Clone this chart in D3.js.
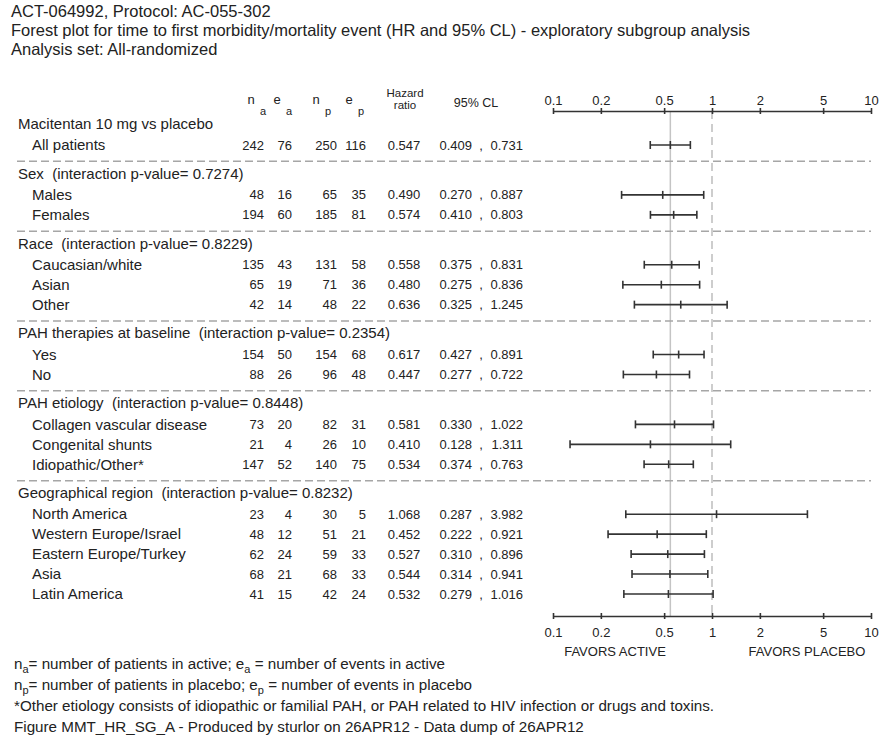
<!DOCTYPE html>
<html>
<head>
<meta charset="utf-8">
<script src="https://cdn.jsdelivr.net/npm/d3@7"></script>
<style>
  body { margin: 0; background: #fff; }
  svg { display: block; font-family: "Liberation Sans", Arial, sans-serif; }
  svg text { white-space: pre; }
</style>
</head>
<body>
<svg id="chart" width="880" height="736"></svg>
<script>
// ---------------- data ----------------
const titleLines = [
  "ACT-064992, Protocol: AC-055-302",
  "Forest plot for time to first morbidity/mortality event (HR and 95% CL) - exploratory subgroup analysis",
  "Analysis set: All-randomized"
];
const groupHeaders = [
  "Macitentan 10 mg vs placebo",
  "Sex  (interaction p-value= 0.7274)",
  "Race  (interaction p-value= 0.8229)",
  "PAH therapies at baseline  (interaction p-value= 0.2354)",
  "PAH etiology  (interaction p-value= 0.8448)",
  "Geographical region  (interaction p-value= 0.8232)"
];
const subgroups = ["All patients", "Males", "Females", "Caucasian/white", "Asian", "Other",
  "Yes", "No", "Collagen vascular disease", "Congenital shunts", "Idiopathic/Other*",
  "North America", "Western Europe/Israel", "Eastern Europe/Turkey", "Asia", "Latin America"];
const groupIndex = [0, 1, 1, 2, 2, 2, 3, 3, 4, 4, 4, 5, 5, 5, 5, 5];
const nActive  = [242, 48, 194, 135, 65, 42, 154, 88, 73, 21, 147, 23, 48, 62, 68, 41];
const eActive  = [76, 16, 60, 43, 19, 14, 50, 26, 20, 4, 52, 4, 12, 24, 21, 15];
const nPlacebo = [250, 65, 185, 131, 71, 48, 154, 96, 82, 26, 140, 30, 51, 59, 68, 42];
const ePlacebo = [116, 35, 81, 58, 36, 22, 68, 48, 31, 10, 75, 5, 21, 33, 33, 24];
const hazard   = [0.547, 0.490, 0.574, 0.558, 0.480, 0.636, 0.617, 0.447, 0.581, 0.410, 0.534, 1.068, 0.452, 0.527, 0.544, 0.532];
const ciLower  = [0.409, 0.270, 0.410, 0.375, 0.275, 0.325, 0.427, 0.277, 0.330, 0.128, 0.374, 0.287, 0.222, 0.310, 0.314, 0.279];
const ciUpper  = [0.731, 0.887, 0.803, 0.831, 0.836, 1.245, 0.891, 0.722, 1.022, 1.311, 0.763, 3.982, 0.921, 0.896, 0.941, 1.016];
const axisTicks = [0.1, 0.2, 0.5, 1, 2, 5, 10];
const overallHR = 0.547;
const footnotes = [
  [["n", ""], ["a", "sub"], ["= number of patients in active; e", ""], ["a", "sub"], [" = number of events in active", ""]],
  [["n", ""], ["p", "sub"], ["= number of patients in placebo; e", ""], ["p", "sub"], [" = number of events in placebo", ""]],
  [["*Other etiology consists of idiopathic or familial PAH, or PAH related to HIV infection or drugs and toxins.", ""]],
  [["Figure MMT_HR_SG_A - Produced by sturlor on 26APR12 - Data dump of 26APR12", ""]]
];

// ---------------- layout ----------------
const svg = d3.select("#chart");
const ink = "#222";
const x = d3.scaleLog().domain([0.1, 10]).range([553, 871]);

// compute row positions in units
const rowPos = [], sepPos = [], headerPos = [];
let pos = 0;
headerPos.push(-1.05);
subgroups.forEach((s, i) => {
  if (i === 0) { rowPos.push(0); return; }
  if (groupIndex[i] !== groupIndex[i - 1]) {
    sepPos.push(pos + 0.82);
    headerPos.push(pos + 1.43);
    pos = pos + 2.5;
  } else {
    pos = pos + 1;
  }
  rowPos.push(pos);
});
const y = d3.scaleLinear().domain([0, 22.5]).range([145, 594]);

const fmt3 = d3.format(".3f");
const topAxisY = 111, bottomAxisY = 616;

// title
svg.append("g").selectAll("text").data(titleLines).join("text")
  .attr("x", 11).attr("y", (d, i) => 11 + i * 19)
  .attr("dy", "0.35em")
  .attr("font-size", 16.5).attr("fill", ink)
  .text(d => d);

// column headers
const hdr = svg.append("g").attr("font-size", 13).attr("fill", ink);
const subHdr = [["n", "a", 251], ["e", "a", 277], ["n", "p", 316], ["e", "p", 349]];
subHdr.forEach(([m, s, xx]) => {
  hdr.append("text").attr("x", xx).attr("y", 104).attr("text-anchor", "middle").text(m);
  hdr.append("text").attr("x", xx + 12).attr("y", 115).attr("text-anchor", "middle").attr("font-size", 11).text(s);
});
hdr.append("text").attr("x", 405).attr("y", 97).attr("text-anchor", "middle").attr("font-size", 11.5).text("Hazard");
hdr.append("text").attr("x", 405).attr("y", 108.5).attr("text-anchor", "middle").attr("font-size", 11.5).text("ratio");
hdr.append("text").attr("x", 476).attr("y", 107).attr("text-anchor", "middle").attr("font-size", 12.5).text("95% CL");

// reference lines
svg.append("line").attr("x1", x(overallHR)).attr("x2", x(overallHR))
  .attr("y1", topAxisY).attr("y2", bottomAxisY)
  .attr("stroke", "#c4c4c4").attr("stroke-width", 1.5);
svg.append("line").attr("x1", x(1)).attr("x2", x(1))
  .attr("y1", topAxisY).attr("y2", bottomAxisY)
  .attr("stroke", "#bdbdbd").attr("stroke-width", 1.5).attr("stroke-dasharray", "8,5");

// separators
svg.append("g").selectAll("line").data(sepPos).join("line")
  .attr("x1", 17).attr("x2", 871)
  .attr("y1", d => y(d)).attr("y2", d => y(d))
  .attr("stroke", "#a6a6a6").attr("stroke-width", 1.5).attr("stroke-dasharray", "8,4");

// group headers
svg.append("g").selectAll("text").data(groupHeaders).join("text")
  .attr("x", 18).attr("y", (d, i) => y(headerPos[i])).attr("dy", "0.35em")
  .attr("font-size", 15).attr("fill", ink).text(d => d);

// rows
const rows = svg.append("g").selectAll("g").data(subgroups).join("g")
  .attr("transform", (d, i) => `translate(0,${y(rowPos[i])})`)
  .attr("fill", ink);
rows.append("text").attr("x", 32).attr("dy", "0.35em").attr("font-size", 15).text(d => d);
const numCols = [
  [nActive, 264, "end", d => d],
  [eActive, 292, "end", d => d],
  [nPlacebo, 337, "end", d => d],
  [ePlacebo, 366, "end", d => d],
  [hazard, 404, "middle", fmt3],
  [ciLower, 472, "end", fmt3],
  [ciUpper, 523, "end", fmt3]
];
numCols.forEach(([arr, xx, anchor, f]) => {
  rows.append("text").attr("x", xx).attr("dy", "0.35em").attr("font-size", 13)
    .attr("text-anchor", anchor).text((d, i) => f(arr[i]));
});
rows.append("text").attr("x", 481).attr("dy", "0.35em").attr("font-size", 13)
  .attr("text-anchor", "middle").text(",");

// CI bars
const cap = 4;
rows.append("line").attr("x1", (d, i) => x(ciLower[i])).attr("x2", (d, i) => x(ciUpper[i]))
  .attr("stroke", "#333").attr("stroke-width", 1.6);
[ciLower, ciUpper, hazard].forEach(arr => {
  rows.append("line").attr("x1", (d, i) => x(arr[i])).attr("x2", (d, i) => x(arr[i]))
    .attr("y1", -cap).attr("y2", cap).attr("stroke", "#333").attr("stroke-width", 1.6);
});

// axes
function drawAxis(yy, labelDy) {
  const g = svg.append("g").attr("transform", `translate(0,${yy})`)
    .call(d3.axisTop(x).tickValues(axisTicks).tickFormat(d3.format("~g")).tickSize(0).tickPadding(0));
  g.select(".domain").attr("stroke", "#333").attr("stroke-width", 1.6);
  g.selectAll(".tick line").attr("y1", -3).attr("y2", 3).attr("stroke", "#333").attr("stroke-width", 1.6);
  g.selectAll(".tick text").attr("y", labelDy).attr("dy", "0.35em")
    .attr("font-size", 13).attr("font-family", "Liberation Sans, Arial, sans-serif").attr("fill", ink);
  return g;
}
drawAxis(topAxisY, -11);
drawAxis(bottomAxisY, 16);
svg.append("text").attr("x", 615).attr("y", 651).attr("dy", "0.35em").attr("text-anchor", "middle")
  .attr("font-size", 13).attr("fill", ink).text("FAVORS ACTIVE");
svg.append("text").attr("x", 807).attr("y", 651).attr("dy", "0.35em").attr("text-anchor", "middle")
  .attr("font-size", 13).attr("fill", ink).text("FAVORS PLACEBO");

// footnotes
const fn = svg.append("g").attr("font-size", 15.2).attr("fill", ink);
footnotes.forEach((parts, li) => {
  const t = fn.append("text").attr("x", 14).attr("y", 664 + li * 21).attr("dy", "0.35em");
  parts.forEach(([s, kind]) => {
    const ts = t.append("tspan").text(s);
    if (kind === "sub") ts.attr("font-size", 11).attr("baseline-shift", "-35%");
  });
});
</script>
</body>
</html>
